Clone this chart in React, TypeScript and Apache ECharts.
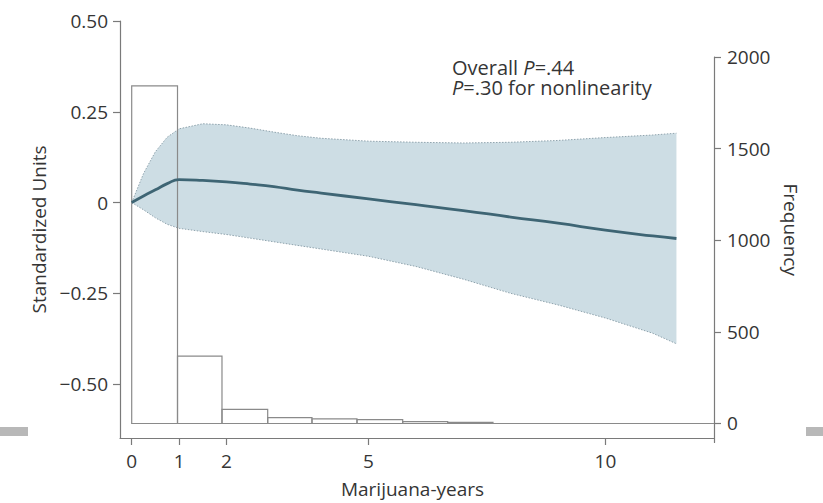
import React, { useEffect, useRef } from "react";
import * as echarts from "echarts";

// ---- data ----
const xTicks = [0, 1, 2, 5, 10];
const yTicks = [-0.5, -0.25, 0, 0.25, 0.5];
const freqTicks = [0, 500, 1000, 1500, 2000];

const curveX = [0, 0.25, 0.5, 0.75, 1, 1.5, 2, 2.5, 3, 3.5, 4, 5, 6, 7, 8, 9, 10, 11, 11.5];
const estimate = [0, 0.018, 0.035, 0.052, 0.063, 0.061, 0.057, 0.051, 0.044, 0.034, 0.026, 0.01, -0.006, -0.022, -0.04, -0.057, -0.076, -0.092, -0.099];
const upperCI = [0, 0.08, 0.14, 0.18, 0.203, 0.217, 0.214, 0.205, 0.194, 0.184, 0.177, 0.169, 0.166, 0.164, 0.166, 0.171, 0.179, 0.186, 0.191];
const lowerCI = [0, -0.02, -0.042, -0.06, -0.071, -0.08, -0.088, -0.098, -0.108, -0.118, -0.128, -0.148, -0.176, -0.211, -0.25, -0.282, -0.318, -0.36, -0.389];

const binStart = [0, 0.967, 1.906, 2.871, 3.806, 4.756, 5.721, 6.671];
const binEnd = [0.967, 1.906, 2.871, 3.806, 4.756, 5.721, 6.671, 7.627];
const frequency = [1842, 368, 77, 32, 25, 21, 10, 6];

const FONT = "'Open Sans', 'Noto Sans', sans-serif";
const TEXT = "#353535";
const AXIS = "#7a7a7a";

export default function App() {
  const ref = useRef<HTMLDivElement>(null);
  useEffect(() => {
    document.body.style.margin = "0";
    if (!ref.current) return;
    const chart = echarts.init(ref.current, undefined, { renderer: "svg" });

    const xMin = -0.247;
    const xMax = 12.293;

    const lowerPts = curveX.map((x, i) => [x, lowerCI[i]]);
    const upperPts = curveX.map((x, i) => [x, upperCI[i]]);
    const estPts = curveX.map((x, i) => [x, estimate[i]]);
    const bandRows = curveX.map((x, i) => [x, lowerCI[i], upperCI[i]]);
    const bins = binStart.map((s, i) => [s, binEnd[i], frequency[i]]);

    const axisLineStyle = { color: AXIS, width: 1.2 };
    const labelStyle = { color: TEXT, fontSize: 19, fontFamily: FONT };
    const ciLine = { color: "#8fa3ad", width: 1, type: [1.5, 1.5] };
    const richAnno = {
      a: { fontSize: 20, fontFamily: FONT, fill: TEXT, lineHeight: 20 },
      i: { fontSize: 20, fontFamily: FONT, fontStyle: "italic", fill: TEXT, lineHeight: 20 },
    };

    const option: any = {
      animation: false,
      textStyle: { fontFamily: FONT },
      grid: [
        { left: 120, top: 21, width: 594, height: 421.5 },
        { left: 120, top: 57, width: 594, height: 385.5 },
      ],
      xAxis: [
        {
          gridIndex: 0,
          type: "value",
          min: xMin,
          max: xMax,
          name: "Marijuana-years",
          nameLocation: "middle",
          nameGap: 41,
          nameTextStyle: { ...labelStyle, padding: [0, 9, 0, 0] },
          axisLine: { show: true, onZero: false, lineStyle: axisLineStyle },
          axisTick: { show: true, length: 7, lineStyle: axisLineStyle, customValues: xTicks },
          axisLabel: { ...labelStyle, margin: 13, customValues: xTicks },
          splitLine: { show: false },
        },
        {
          gridIndex: 1,
          type: "value",
          min: xMin,
          max: xMax,
          show: false,
          axisLine: { show: false, onZero: false },
          axisTick: { show: false },
          axisLabel: { show: false },
          splitLine: { show: false },
        },
      ],
      yAxis: [
        {
          gridIndex: 0,
          type: "value",
          position: "left",
          min: -0.6485,
          max: 0.5,
          name: "Standardized Units",
          nameLocation: "middle",
          nameGap: 70,
          nameTextStyle: labelStyle,
          axisLine: { show: true, onZero: false, lineStyle: axisLineStyle },
          axisTick: { show: true, length: 7, lineStyle: axisLineStyle, customValues: yTicks },
          axisLabel: {
            ...labelStyle,
            margin: 12,
            customValues: yTicks,
            formatter: (v: number) => (v === 0 ? "0" : v.toFixed(2).replace("-", "\u2212")),
          },
          splitLine: { show: false },
        },
        {
          gridIndex: 1,
          type: "value",
          position: "right",
          min: -103.7,
          max: 2000,
          name: "Frequency",
          nameLocation: "middle",
          nameRotate: -90,
          nameGap: 67,
          nameTextStyle: { ...labelStyle, padding: [0, 40, 0, 0] },
          axisLine: { show: true, onZero: false, lineStyle: axisLineStyle },
          axisTick: { show: true, length: 7, lineStyle: axisLineStyle, customValues: freqTicks },
          axisLabel: { ...labelStyle, margin: 13, customValues: freqTicks, formatter: (v: number) => String(v) },
          splitLine: { show: false },
        },
      ],
      series: [
        {
          name: "band",
          type: "custom",
          xAxisIndex: 0,
          yAxisIndex: 0,
          data: bandRows,
          encode: { x: 0, y: [1, 2] },
          silent: true,
          renderItem: (params: any, api: any) => {
            if (params.dataIndex !== 0) return null;
            const top = bandRows.map((r) => api.coord([r[0], r[2]]));
            const bottom = bandRows.map((r) => api.coord([r[0], r[1]])).reverse();
            return {
              type: "polygon",
              shape: { points: top.concat(bottom) },
              style: { fill: "#cddde4", stroke: "none" },
            };
          },
          z: 1,
        },
        {
          name: "lower",
          type: "line",
          xAxisIndex: 0,
          yAxisIndex: 0,
          data: lowerPts,
          symbol: "none",
          lineStyle: ciLine,
          z: 2,
        },
        {
          name: "upper",
          type: "line",
          xAxisIndex: 0,
          yAxisIndex: 0,
          data: upperPts,
          symbol: "none",
          lineStyle: ciLine,
          z: 2,
        },
        {
          name: "histogram",
          type: "custom",
          xAxisIndex: 1,
          yAxisIndex: 1,
          data: bins,
          encode: { x: [0, 1], y: 2 },
          renderItem: (params: any, api: any) => {
            const p0 = api.coord([api.value(0), api.value(2)]);
            const p1 = api.coord([api.value(1), 0]);
            return {
              type: "rect",
              shape: { x: p0[0], y: p0[1], width: p1[0] - p0[0], height: p1[1] - p0[1] },
              style: { fill: "none", stroke: "#8a8a8a", lineWidth: 1.2 },
            };
          },
          z: 3,
        },
        {
          name: "baseline",
          type: "line",
          xAxisIndex: 1,
          yAxisIndex: 1,
          data: [[0, 0], [xMax, 0]],
          symbol: "none",
          lineStyle: { color: "#8a8a8a", width: 1.2 },
          z: 3,
        },
        {
          name: "estimate",
          type: "line",
          xAxisIndex: 0,
          yAxisIndex: 0,
          data: estPts,
          smooth: true,
          symbol: "none",
          lineStyle: { color: "#3e6574", width: 2.8 },
          z: 4,
        },
      ],
      graphic: [
        {
          type: "text",
          x: 452,
          y: 57,
          style: { text: "{a|Overall }{i|P}{a|=.44}", verticalAlign: "top", rich: richAnno },
        },
        {
          type: "text",
          x: 452,
          y: 77,
          style: { text: "{i|P}{a|=.30 for nonlinearity}", verticalAlign: "top", rich: richAnno },
        },
        { type: "rect", shape: { x: 0, y: 427, width: 28, height: 9 }, style: { fill: "#b8b8b8" } },
        { type: "rect", shape: { x: 806, y: 427, width: 17, height: 9 }, style: { fill: "#b8b8b8" } },
      ],
    };
    chart.setOption(option);
    return () => chart.dispose();
  }, []);
  return <div ref={ref} style={{ width: 823, height: 503 }} />;
}
